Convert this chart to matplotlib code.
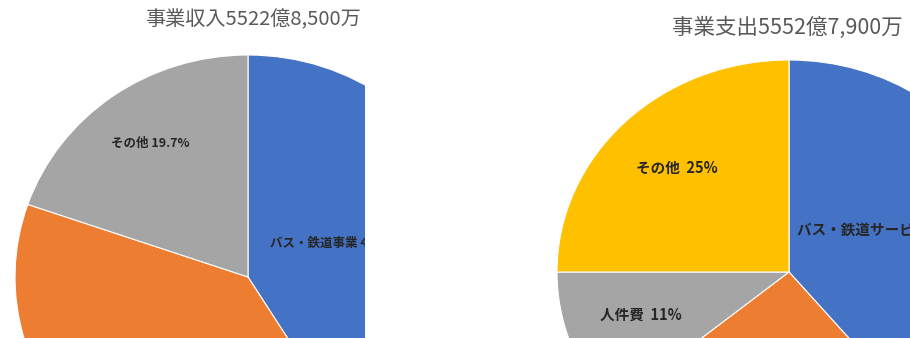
import matplotlib
matplotlib.use('Agg')
import matplotlib.pyplot as plt

plt.rcParams['font.family'] = ['Noto Sans CJK JP', 'DejaVu Sans']

# 事業収入の内訳 (orange slice label sits below the visible area)
income_labels = ['バス・鉄道事業 41.2%', '', 'その他 19.7%']
income_values = [41.2, 39.1, 19.7]
income_title = '事業収入5522億8,500万'

# 事業支出の内訳
spend_labels = ['バス・鉄道サービス 39%', '', '人件費  11%', 'その他  25%']
spend_values = [39, 25, 11, 25]
spend_title = '事業支出5552億7,900万'

colors_income = ['#4472C4', '#ED7D31', '#A5A5A5']
colors_spend = ['#4472C4', '#ED7D31', '#A5A5A5', '#FFC000']

W, H = 910, 338
fig = plt.figure(figsize=(W / 100, H / 100), dpi=100)


def pie_panel(left_px, right_px, cx, cy, rx, ry, values, colors, labels,
              label_pos, label_ha, label_size, title, title_xy, title_ha,
              title_size):
    ax = fig.add_axes([left_px / W, 0, (right_px - left_px) / W, 1])
    wedges, _ = ax.pie(values, colors=colors, startangle=90, counterclock=False,
                       wedgeprops=dict(edgecolor='white', linewidth=0.8))
    for w in wedges:
        w.set_clip_on(True)
    ax.set_aspect('auto')
    # pixel window -> pie units (slightly wider than tall)
    ax.set_xlim((left_px - cx) / rx, (right_px - cx) / rx)
    ax.set_ylim((cy - H) / ry, cy / ry)
    ax.axis('off')
    for lab, (x, y), ha in zip(labels, label_pos, label_ha):
        if lab:
            ax.text(x, y, lab, ha=ha, va='center', fontsize=label_size,
                    fontweight='bold', color='#262626', clip_on=True)
    ax.text(title_xy[0], title_xy[1], title, ha=title_ha, va='center',
            fontsize=title_size, color='#595959', clip_on=True)
    return ax


pie_panel(0, 365, 248, 277, 233, 222, income_values, colors_income,
          income_labels,
          [(0.095, 0.15), (0, 0), (-0.42, 0.604)],
          ['left', 'center', 'center'], 9,
          income_title, (0.02, 1.158), 'center', 14.5)

pie_panel(540, 910, 789, 272, 232, 212, spend_values, colors_spend,
          spend_labels,
          [(0.035, 0.198), (0, 0), (-0.638, -0.203), (-0.483, 0.49)],
          ['left', 'center', 'center', 'center'], 10.5,
          spend_title, (-0.504, 1.15), 'left', 15.5)

fig.savefig('out.png', dpi=100)
